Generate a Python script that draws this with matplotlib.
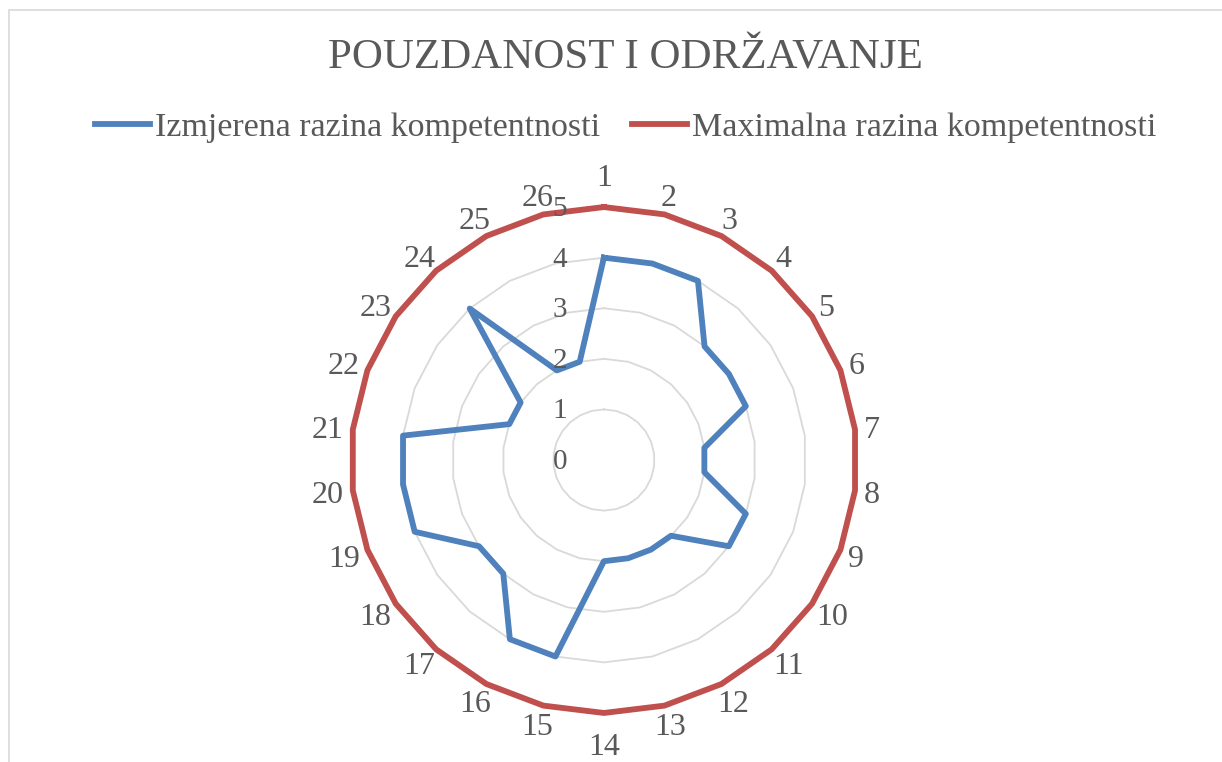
import numpy as np
import matplotlib.pyplot as plt
from matplotlib.transforms import offset_copy

# Data
categories = [str(i) for i in range(1, 27)]
izmjerena = [4, 4, 4, 3, 3, 3, 2, 2, 3, 3, 2, 2, 2, 2, 4, 4, 3, 3, 4, 4, 4, 2, 2, 4, 2, 2]
maksimalna = [5] * 26
r_ticks = [0, 1, 2, 3, 4, 5]

plt.rcParams['font.family'] = ['Liberation Serif', 'DejaVu Serif']
text_color = '#595959'
blue = '#4F81BD'
red = '#C0504D'

n = len(categories)
theta = np.arange(n) * 2 * np.pi / n

fig = plt.figure(figsize=(12.22, 7.62), dpi=100)
ax = fig.add_axes([0.2872, 0.0643, 0.414, 0.664], projection='polar')
ax.set_theta_zero_location('N')
ax.set_theta_direction(-1)
ax.set_ylim(0, 5)
ax.grid(False)
ax.spines['polar'].set_visible(False)
ax.set_xticks([])
ax.set_yticks([])
ax.patch.set_alpha(0)

# polygon gridlines
t_closed = np.append(theta, theta[0])
for lvl in r_ticks[1:]:
    ax.plot(t_closed, [lvl] * (n + 1), color='#D9D9D9', lw=1.3, zorder=1)

# series
ax.plot(t_closed, izmjerena + izmjerena[:1], color=blue, lw=4.2, zorder=3,
        solid_joinstyle='round', label='Izmjerena razina kompetentnosti')
ax.plot(t_closed, maksimalna + maksimalna[:1], color=red, lw=4.2, zorder=3,
        solid_joinstyle='round', label='Maximalna razina kompetentnosti', clip_on=False)

# radial tick labels
tr = offset_copy(ax.transData, fig=fig, x=-44, y=-2, units='dots')
for v in r_ticks:
    ax.text(0, v, str(v), transform=tr, ha='center', va='center',
            fontsize=21, color=text_color, zorder=4)

# category labels (offsets in pixels, converted to points)
for t, lab in zip(theta, categories):
    s, c = np.sin(t), np.cos(t)
    half_w = 8.0 * len(lab)
    half_h = 10.5
    gap = 9 + (12 if abs(s) < 0.01 else 0)
    dx = s * (gap + half_w) * 0.72
    dy = (c * (gap + half_h) - 3) * 0.72
    ax.annotate(lab, xy=(t, 5), xytext=(dx, dy), textcoords='offset points',
                ha='center', va='center', fontsize=23, color=text_color,
                annotation_clip=False)

fig.text(0.512, 0.924, 'POUZDANOST I ODRŽAVANJE', ha='center', va='center',
         fontsize=31, color=text_color)

fig.legend(loc='center', bbox_to_anchor=(0.512, 0.833), ncol=2, frameon=False,
           fontsize=24.5, labelcolor=text_color, handlelength=1.6,
           handletextpad=0.15, columnspacing=0.95)

# chart border
fig.patches.append(plt.Rectangle((0.007, -0.01), 1.0, 0.997, transform=fig.transFigure,
                                 fill=False, edgecolor='#D9D9D9', lw=1.2))

fig.savefig('out.png', dpi=100)
